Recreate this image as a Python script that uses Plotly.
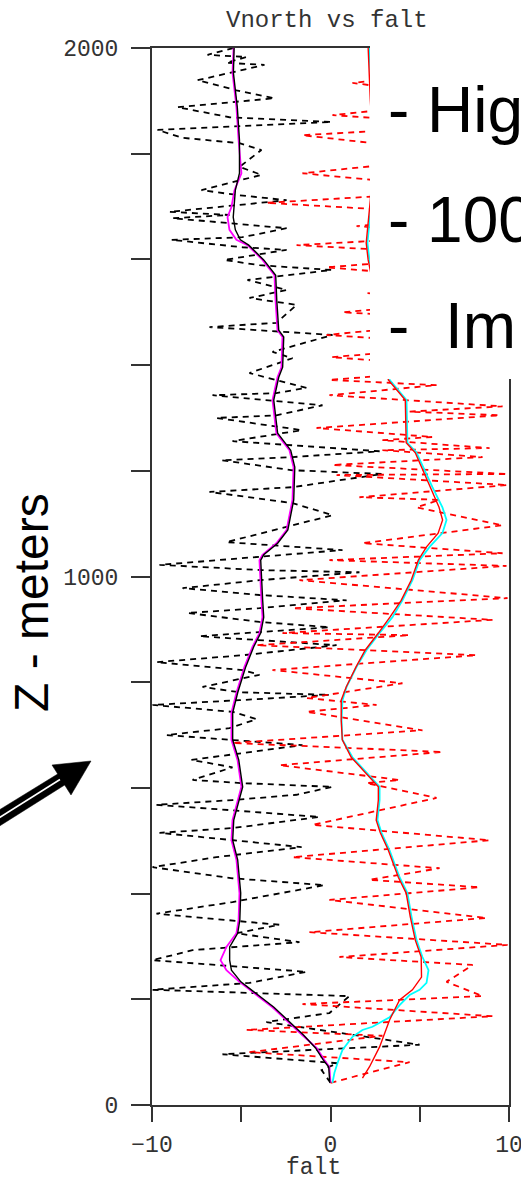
import plotly.graph_objects as go

# ---------------- data ----------------
# noisy profile, black dashed (falt, z) turning points, bottom -> top
black_dash_x = [0.0, -0.50, 0.39, -6.05, 4.99, -3.59, -0.06, 1.06, -9.97, -4.54,
                -1.34, -9.97, -7.73, -1.74, -5.27, -2.86, -9.75, -5.49, -0.34, -5.49,
                -9.97, -6.39, -1.62, -5.49, -9.58, -5.49, -0.62, -5.66, -9.75, -5.49,
                -1.90, 0.11, -4.93, -7.73, -5.49, -7.79, -1.57, -5.66, -9.19, -5.66,
                -4.15, -5.49, -9.97, -5.10, -0.06, -5.10, -7.17, -3.98, -4.93, -9.75,
                -4.93, 0.34, -4.15, -7.34, -0.06, -3.98, -8.01, -3.98, 0.90, -3.98,
                -8.29, -3.98, 1.62, -3.81, -9.58, -3.81, 0.67, -5.83, 0.11, -2.13,
                -6.78, -2.13, 2.91, -2.13, -6.11, -2.13, 2.75, -5.49, -1.62, -6.39,
                -3.03, -0.45, -6.61, -3.03, -1.34, -4.54, -2.13, -3.25, 0.11, -6.78,
                -3.03, -1.90, -4.54, -2.46, -4.65, 0.06, -3.98, -5.94, -2.46, -4.93,
                -8.91, -4.93, -2.46, -8.85, -5.66, -9.02, -2.46, -5.27, -7.23, -3.87,
                -5.10, -3.87, -5.10, -8.29, -9.69, 0.06, -5.66, -8.57, -3.14, -5.27,
                -7.45, -3.70, -5.83, -4.71, -6.89, -5.43]
black_dash_z = [42, 66, 79, 96, 114, 157, 174, 206, 218, 231,
                252, 274, 293, 308, 325, 341, 362, 384, 416, 429,
                450, 469, 488, 501, 515, 524, 545, 558, 568, 577,
                587, 602, 609, 615, 639, 653, 681, 691, 700, 713,
                730, 744, 757, 766, 776, 781, 791, 814, 823, 838,
                851, 870, 880, 887, 904, 914, 931, 940, 955, 965,
                978, 993, 1008, 1012, 1022, 1037, 1050, 1065, 1116, 1139,
                1160, 1169, 1194, 1201, 1220, 1226, 1237, 1256, 1277, 1300,
                1305, 1324, 1343, 1347, 1357, 1385, 1413, 1425, 1457, 1472,
                1480, 1514, 1527, 1542, 1561, 1580, 1589, 1599, 1618, 1623,
                1637, 1642, 1659, 1678, 1684, 1690, 1712, 1722, 1731, 1760,
                1775, 1807, 1820, 1830, 1845, 1860, 1869, 1888, 1905, 1920,
                1939, 1968, 1972, 1983, 1987, 2000]

# noisy profile, red dashed
red_dash_x = [0.0, 4.43, -4.54, 2.91, -4.71, 9.08, -1.57, 8.52, 6.50, 7.96,
              0.50, 9.92, -1.18, 8.74, -0.06, 8.35, 2.18, 6.11, -2.13, 8.91,
              -1.01, 5.94, 2.02, 3.87, -2.86, 6.27, -5.49, 5.15, -1.34, 2.58,
              -1.34, 4.03, -3.25, 8.18, -4.15, 4.43, -2.69, 9.08, -2.13, 9.92,
              -1.74, 9.86, -0.06, 9.64, 1.79, 9.64, 4.82, 6.11, 1.62, 9.92,
              0.34, 9.92, 0.11, 8.52, 2.91, 8.91, 2.91, 5.71, -0.78, 9.47,
              4.43, 9.64, -0.06, 5.94, -0.06, 8.35, 0.06, 8.35, -0.22, 8.35,
              0.67, 8.35, 2.07, 8.35, -0.22, 8.35, -1.90, 8.35, 1.46, 8.35,
              -3.59, 8.35, -1.57, 8.35, -1.57, 8.35, 0.11, 8.35, 1.23, 8.35]
red_dash_z = [42, 81, 100, 131, 142, 168, 191, 206, 233, 265,
              280, 303, 327, 354, 388, 412, 426, 448, 469, 501,
              530, 581, 609, 615, 643, 668, 685, 709, 744, 757,
              770, 798, 823, 851, 870, 889, 893, 918, 940, 959,
              993, 1020, 1031, 1044, 1063, 1097, 1131, 1145, 1150, 1173,
              1192, 1194, 1211, 1226, 1239, 1243, 1258, 1264, 1281, 1305,
              1312, 1322, 1343, 1362, 1372, 1394, 1415, 1438, 1457, 1485,
              1500, 1523, 1536, 1561, 1585, 1608, 1627, 1646, 1663, 1684,
              1707, 1731, 1763, 1797, 1835, 1854, 1873, 1902, 1934, 1958]

# smoothed profiles
mean_z = [42, 72, 85, 108, 132, 155, 185, 214, 233, 255,
          274, 299, 325, 350, 401, 464, 501, 539, 577, 602,
          653, 691, 742, 780, 829, 867, 893, 923, 955, 1031,
          1041, 1063, 1088, 1145, 1207, 1239, 1271, 1334, 1377, 1396,
          1453, 1466, 1523, 1570, 1599, 1627, 1637, 1656, 1680, 1699,
          1731, 1763, 1826, 1888, 1953, 2000]
magenta_x = [0.0, -0.06, -0.34, -0.78, -1.57, -2.30, -3.25, -4.37, -5.10, -5.83,
             -6.16, -5.83, -5.27, -5.15, -5.10, -5.27, -5.55, -5.49, -5.21, -4.99,
             -5.21, -5.55, -5.55, -5.27, -4.82, -4.37, -3.98, -3.81, -3.87, -3.98,
             -3.81, -3.03, -2.46, -2.13, -2.07, -2.30, -3.03, -3.25, -2.97, -2.75,
             -2.69, -2.97, -3.08, -3.14, -3.81, -4.65, -5.27, -5.66, -5.77, -5.55,
             -5.38, -4.99, -5.15, -5.27, -5.49, -5.43]
black_x = [-0.04, -0.10, -0.40, -0.84, -1.50, -2.22, -3.17, -4.29, -5.02, -5.55,
           -5.65, -5.65, -5.20, -5.08, -5.03, -5.20, -5.48, -5.42, -5.14, -4.92,
           -5.14, -5.48, -5.48, -5.20, -4.75, -4.30, -3.91, -3.74, -3.80, -3.91,
           -3.74, -2.96, -2.39, -2.06, -2.00, -2.23, -2.96, -3.18, -2.90, -2.68,
           -2.62, -2.90, -3.01, -3.07, -3.74, -4.58, -5.05, -5.33, -5.45, -5.40,
           -5.33, -5.10, -5.10, -5.22, -5.44, -5.40]

cyan_z = [42, 61, 79, 104, 129, 142, 148, 166, 189, 208,
          218, 231, 255, 280, 312, 356, 401, 431, 482, 515,
          539, 577, 602, 628, 658, 691, 728, 766, 791, 829,
          861, 893, 923, 955, 993, 1031, 1056, 1082, 1107, 1131,
          1169, 1234, 1253, 1334, 1372, 1447, 1523, 1599, 1631, 1712,
          1807, 1902, 2000]
cyan_x = [0.11, 0.22, 0.39, 0.67, 1.23, 1.79, 2.35, 3.31, 3.87, 4.43,
          4.99, 5.38, 5.49, 5.15, 4.82, 4.54, 4.31, 3.87, 3.31, 2.86,
          2.63, 2.75, 2.75, 2.02, 1.23, 0.67, 0.62, 0.67, 0.90, 1.46,
          2.02, 2.75, 3.47, 4.03, 4.59, 4.99, 5.55, 6.27, 6.50, 6.27,
          5.71, 4.82, 4.31, 4.26, 3.31, 3.03, 2.63, 2.18, 2.07, 2.30,
          2.47, 2.30, 2.18]

red_z = [51, 72, 110, 161, 199, 218, 242, 280, 312, 356,
         401, 431, 482, 515, 539, 577, 602, 628, 658, 691,
         728, 766, 791, 829, 861, 893, 923, 955, 993, 1031,
         1056, 1082, 1107, 1131, 1169, 1234, 1253, 1334, 1372, 1447,
         1523, 1599, 1631, 1712, 1807, 1902, 2000]
red_x = [1.79, 2.18, 2.75, 3.31, 3.87, 4.59, 5.10, 5.08, 4.75, 4.47,
         4.24, 3.80, 3.24, 2.79, 2.56, 2.68, 2.68, 1.95, 1.16, 0.66,
         0.60, 0.60, 0.88, 1.43, 1.95, 2.68, 3.33, 3.96, 4.52, 4.92,
         5.38, 6.03, 6.28, 6.08, 5.58, 4.75, 4.24, 4.19, 3.24, 2.96,
         2.56, 2.11, 2.00, 2.23, 2.40, 2.23, 2.11]

x_tickvals = [-10, -5, 0, 5, 10]
x_ticktext = ["\u221210", "", "0", "", "10"]
y_tickvals = [0, 200, 400, 600, 800, 1000, 1200, 1400, 1600, 1800, 2000]
y_ticktext = ["0", "", "", "", "", "1000", "", "", "", "", "2000"]

title_text = "Vnorth vs falt"
xlabel_text = "falt"
side_label = "Z - meters"
bullet_lines = ["- Hig", "- 100", "-  Im"]

# ---------------- layout geometry (pixels) ----------------
W, H = 521, 1181
L, R, T, B = 152, 509, 48, 1105


def pp(px, py):
    """pixel -> paper coordinates"""
    return (px - L) / (R - L), (B - py) / (B - T)


mono = "Liberation Mono, Courier New, monospace"
sans = "Liberation Sans, Arial, sans-serif"
axis_col = "#333333"

fig = go.Figure()
fig.add_trace(go.Scatter(x=black_dash_x, y=black_dash_z, mode="lines",
                         line=dict(color="black", width=1.8, dash="6px,5px")))
fig.add_trace(go.Scatter(x=red_dash_x, y=red_dash_z, mode="lines",
                         line=dict(color="#ff0000", width=1.8, dash="6px,5px")))
fig.add_trace(go.Scatter(x=magenta_x, y=mean_z, mode="lines",
                         line=dict(color="#ff00ff", width=1.8)))
fig.add_trace(go.Scatter(x=black_x, y=mean_z, mode="lines",
                         line=dict(color="black", width=1.4)))
fig.add_trace(go.Scatter(x=cyan_x, y=cyan_z, mode="lines",
                         line=dict(color="#00ffff", width=1.8)))
fig.add_trace(go.Scatter(x=red_x, y=red_z, mode="lines",
                         line=dict(color="#ff0000", width=1.4)))

shapes = []
# white box covering top-right
bx0, by0 = pp(370, 379)
bx1, by1 = pp(530, -10)
shapes.append(dict(type="rect", xref="paper", yref="paper", x0=bx0, x1=bx1,
                   y0=by0, y1=by1, fillcolor="white", line=dict(width=0),
                   layer="above"))


def path(points, close=True):
    s = ""
    for i, (px, py) in enumerate(points):
        x, y = pp(px, py)
        s += ("M" if i == 0 else "L") + f"{x:.5f},{y:.5f} "
    return s + ("Z" if close else "")


# arrow shaft (black band with white centre line)
shapes.append(dict(type="path", xref="paper", yref="paper",
                   path=path([(-9, 815), (58.5, 773.5), (65.5, 784.5), (-2, 827)]),
                   fillcolor="black", line=dict(color="black", width=0.5),
                   layer="above"))
shapes.append(dict(type="path", xref="paper", yref="paper",
                   path=path([(-6, 821), (60, 779.5)], close=False),
                   line=dict(color="white", width=1.6), layer="above"))
# arrow head
shapes.append(dict(type="path", xref="paper", yref="paper",
                   path=path([(91, 761), (52, 765), (71, 795)]),
                   fillcolor="black", line=dict(color="black", width=0.5),
                   layer="above"))

annotations = []
tx, ty = pp(327, 20)
annotations.append(dict(text=title_text, x=tx, y=ty, xref="paper", yref="paper",
                        showarrow=False, xanchor="center", yanchor="middle",
                        font=dict(family=mono, size=24, color=axis_col)))
lx, ly = pp(313, 1168)
annotations.append(dict(text=xlabel_text, x=lx, y=ly, xref="paper", yref="paper",
                        showarrow=False, xanchor="center", yanchor="middle",
                        font=dict(family=mono, size=23, color=axis_col)))
zx, zy = pp(31, 603)
annotations.append(dict(text=side_label, x=zx, y=zy, xref="paper", yref="paper",
                        showarrow=False, xanchor="center", yanchor="middle",
                        textangle=-90,
                        font=dict(family=sans, size=48, color="black")))
for i, (txt, cy) in enumerate(zip(bullet_lines, [110, 220, 326])):
    ax_, ay_ = pp(386, cy)
    annotations.append(dict(text=txt, x=ax_, y=ay_, xref="paper", yref="paper",
                            showarrow=False, xanchor="left", yanchor="middle",
                            font=dict(family=sans, size=64, color="black")))

fig.update_layout(
    width=W, height=H, autosize=False,
    margin=dict(l=L, r=W - R, t=T, b=H - B, pad=0),
    paper_bgcolor="white", plot_bgcolor="white",
    showlegend=False,
    shapes=shapes, annotations=annotations,
    xaxis=dict(range=[-10, 10], tickvals=x_tickvals, ticktext=x_ticktext,
               showgrid=False, zeroline=False, showline=True, mirror=True,
               linecolor=axis_col, linewidth=2, ticks="outside", ticklen=15,
               tickwidth=2, tickcolor=axis_col, automargin=False,
               ticklabelstandoff=2, ticklabeloverflow="allow",
               tickfont=dict(family=mono, size=23, color=axis_col)),
    yaxis=dict(range=[0, 2000], tickvals=y_tickvals, ticktext=y_ticktext,
               showgrid=False, zeroline=False, showline=True, mirror=True,
               linecolor=axis_col, linewidth=2, ticks="outside", ticklen=19,
               tickwidth=2, tickcolor=axis_col, automargin=False,
               ticklabelstandoff=8, ticklabeloverflow="allow",
               tickfont=dict(family=mono, size=23, color=axis_col)),
)

fig.write_html("out.html", config={"displayModeBar": False})
